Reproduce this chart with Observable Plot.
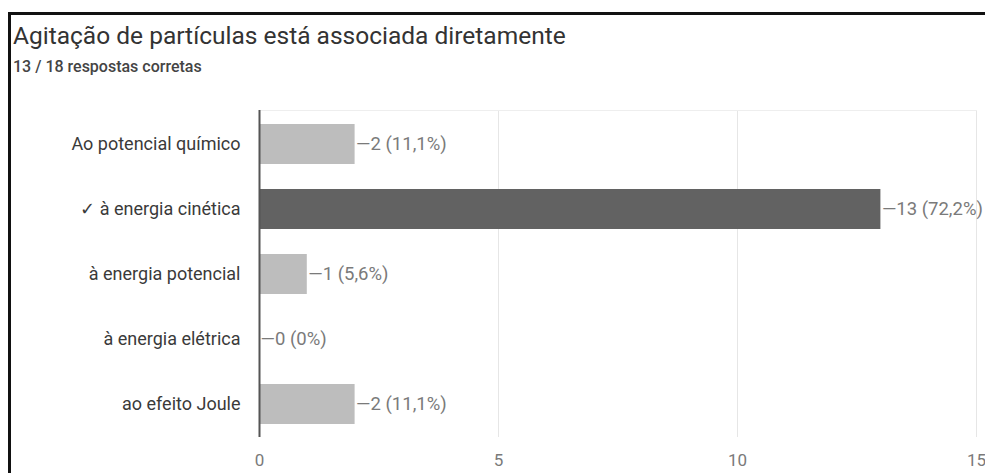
<!DOCTYPE html>
<html>
<head>
<meta charset="utf-8">
<script src="https://cdn.jsdelivr.net/npm/d3@7"></script>
<script src="https://cdn.jsdelivr.net/npm/@observablehq/plot@0.6"></script>
<style>
  html, body { margin: 0; padding: 0; background: #fff; width: 985px; height: 473px; overflow: hidden; }
  #frame { position: absolute; left: 8px; top: 12px; width: 990px; height: 480px;
           border-left: 3px solid #111; border-top: 3px solid #111; }
  #title { position: absolute; left: 13px; top: 21px; font-family: Roboto, sans-serif; font-size: 24.5px; color: #333; white-space: nowrap; }
  #subtitle { position: absolute; left: 13px; top: 57px; font-family: Roboto, sans-serif; font-size: 16px; font-weight: 500; color: #444; white-space: nowrap; }
  #chart { position: absolute; left: 0; top: 90px; }
</style>
</head>
<body>
<div id="frame"></div>
<div id="title">Agitação de partículas está associada diretamente</div>
<div id="subtitle">13 / 18 respostas corretas</div>
<div id="chart"></div>
<script>
const categories = ["Ao potencial químico", "✓ à energia cinética", "à energia potencial", "à energia elétrica", "ao efeito Joule"];
const counts = [2, 13, 1, 0, 2];
const percents = ["11,1%", "72,2%", "5,6%", "0%", "11,1%"];
const correct = [false, true, false, false, false];
const xTicks = [0, 5, 10, 15];

const data = categories.map((c, i) => ({cat: c, value: counts[i], pct: percents[i], correct: correct[i]}));

const chart = Plot.plot({
  width: 985,
  height: 383,
  marginLeft: 259,
  marginRight: 9,
  marginTop: 20,
  marginBottom: 36,
  style: {fontFamily: "Roboto, sans-serif", fontSize: "17px", background: "transparent", overflow: "visible"},
  x: {domain: [0, 15], ticks: xTicks, label: null},
  y: {domain: categories, label: null, paddingInner: 0.385, paddingOuter: 0.2},
  marks: [
    Plot.gridX(xTicks.slice(1), {stroke: "#e6e6e6", strokeOpacity: 1}),
    Plot.frame({stroke: "#eeeeee", anchor: "top"}),
    Plot.barX(data, {x: "value", y: "cat", fill: d => d.correct ? "#626262" : "#bdbdbd"}),
    Plot.ruleX([0], {stroke: "#555", strokeWidth: 2}),
    Plot.text(data, {x: "value", y: "cat", text: d => "—" + d.value + " (" + d.pct + ")", textAnchor: "start", dx: 1, fill: "#7a7a7a", fontSize: 18.5}),
    Plot.axisX({ticks: xTicks, tickSize: 0, tickPadding: 16, fill: "#7a7a7a", fontSize: 17}),
    Plot.axisY({tickSize: 0, tickPadding: 19, fill: "#3a3a3a", fontSize: 18})
  ]
});
document.getElementById("chart").appendChild(chart);
</script>
</body>
</html>
